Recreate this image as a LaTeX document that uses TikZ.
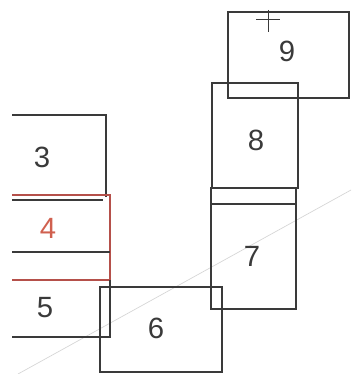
\documentclass[tikz,border=0pt]{standalone}
\usepackage{fontspec}
\setmainfont{Liberation Sans}
\definecolor{inkgray}{HTML}{3A3A3A}
\definecolor{brickred}{HTML}{B5504A}
\definecolor{lblred}{HTML}{D0604F}
\definecolor{faint}{HTML}{D6D6D6}

\begin{document}
\begin{tikzpicture}[x=0.03cm, y=-0.03cm, line width=1.1pt,
  plot/.style={draw=inkgray},
  redplot/.style={draw=brickred},
  lbl/.style={text=inkgray, font=\fontsize{25}{28}\selectfont},
  redlbl/.style={text=lblred, font=\fontsize{25}{28}\selectfont}]

% Frame
\useasboundingbox (0,0) rectangle (351,374);

% Faint guide line
\draw[faint, line width=0.6pt] (18,374) -- (351,190);

% Plot 3 (open on the left)
\draw[plot] (12,115) -- (106,115) -- (106,197);
\draw[plot] (12,200) -- (103,200);

% Plot 4 (red, open on the left)
\draw[redplot] (12,195) -- (110,195) -- (110,280) -- (12,280);
\draw[plot] (12,252) -- (110,252);

% Plot 5 (open on the left)
\draw[plot] (110,280) -- (110,337) -- (12,337);

% Plot 6
\draw[plot] (100,287) rectangle (222,372);

% Plots 7 and 8
\draw[plot] (211,188) rectangle (296,309);
\draw[plot] (211,204) -- (296,204);
\draw[plot] (212,83) rectangle (298,188);

% Plot 9 with survey mark
\draw[plot] (228,12) rectangle (349,98);
\draw[plot, line width=0.8pt] (256,19) -- (280,19);
\draw[plot, line width=0.8pt] (268,10) -- (268,32);

% Labels
\node[lbl] (n3) at (42,157) {3};
\node[redlbl] (n4) at (48,228) {4};
\node[lbl] (n5) at (45,308) {5};
\node[lbl] (n6) at (156,328) {6};
\node[lbl] (n7) at (252,256) {7};
\node[lbl] (n8) at (256,140) {8};
\node[lbl] (n9) at (287,51) {9};

\end{tikzpicture}
\end{document}
